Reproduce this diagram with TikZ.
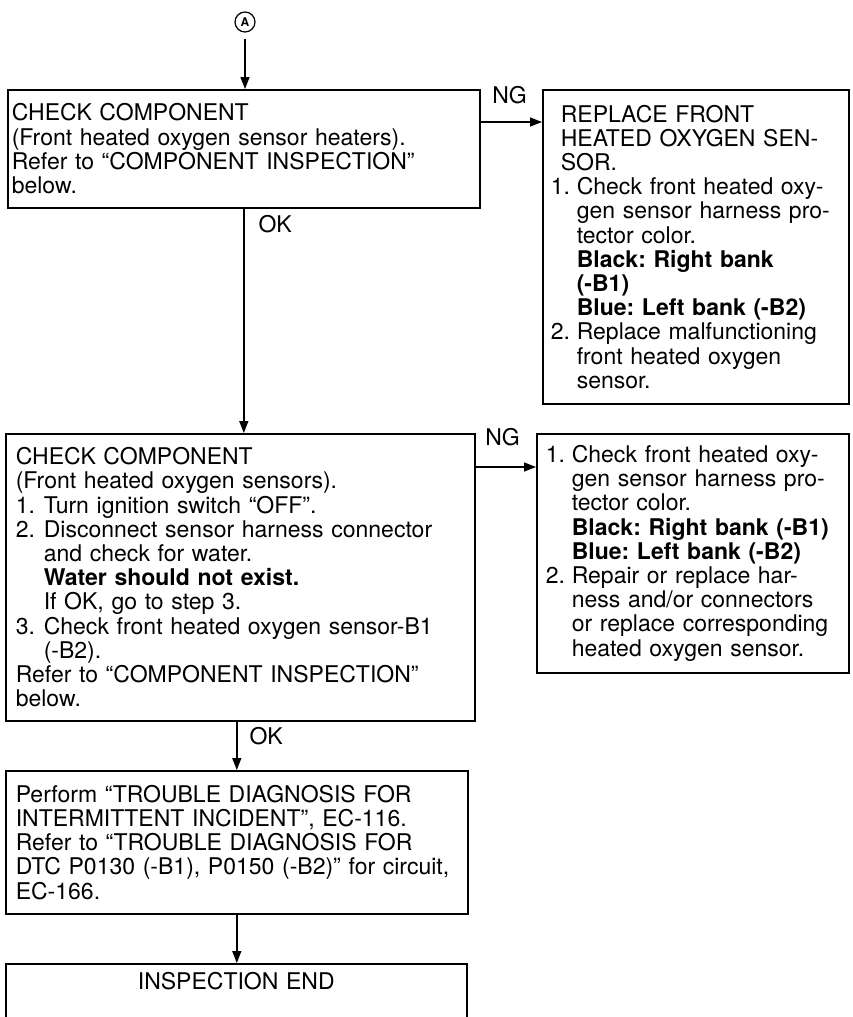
\documentclass[tikz,border=0pt]{standalone}
\usepackage{fontspec}
\setmainfont{TeX Gyre Heros}
\usetikzlibrary{arrows.meta,positioning}
\newcommand{\nomor}[2][26pt]{\makebox[#1][l]{#2}}
\newcommand{\terus}[1][26pt]{\hspace*{#1}}
\frenchspacing
\begin{document}
\begin{tikzpicture}[x=1pt, y=-1pt, >={Triangle[length=12pt,width=9pt]},
    boks/.style={draw, line width=1.6pt, anchor=north west, align=left, inner ysep=3pt,
      font=\fontsize{23}{24.2}\selectfont},
    garis/.style={->, line width=1.4pt},
    tanda/.style={inner sep=0pt, anchor=base west, font=\fontsize{23}{24}\selectfont}]
  \useasboundingbox (0,0) rectangle (852,1017);
  \clip (0,0) rectangle (852,1017);

  \node[draw, circle, line width=1.2pt, minimum size=20pt, inner sep=0pt,
    font=\bfseries\fontsize{12}{12}\selectfont] (a) at (245,22) {A};

  \node[boks, inner xsep=4pt, text width=464pt, minimum height=118pt] (cek1) at (7,89)
    {CHECK COMPONENT\\
     (Front heated oxygen sensor heaters).\\
     Refer to “COMPONENT INSPECTION”\\
     below.};

  \node[boks, inner xsep=8pt, text width=290pt, minimum height=314pt] (ganti1) at (542,89)
    {\terus[10pt]REPLACE FRONT\\
     \terus[10pt]HEATED OXYGEN SEN-\\
     \terus[10pt]SOR.\\
     \nomor{1.}Check front heated oxy-\\
     \terus gen sensor harness pro-\\
     \terus tector color.\\
     \terus\textbf{Black: Right bank}\\
     \terus\textbf{(-B1)}\\
     \terus\textbf{Blue: Left bank (-B2)}\\
     \nomor{2.}Replace malfunctioning\\
     \terus front heated oxygen\\
     \terus sensor.};

  \node[boks, inner xsep=10pt, text width=449pt, minimum height=287pt] (cek2) at (5,433)
    {CHECK COMPONENT\\
     (Front heated oxygen sensors).\\
     \nomor[28pt]{1.}Turn ignition switch “OFF”.\\
     \nomor[28pt]{2.}Disconnect sensor harness connector\\
     \terus[28pt]and check for water.\\
     \terus[28pt]\textbf{Water should not exist.}\\
     \terus[28pt]If OK, go to step 3.\\
     \nomor[28pt]{3.}Check front heated oxygen sensor-B1\\
     \terus[28pt](-B2).\\
     Refer to “COMPONENT INSPECTION”\\
     below.};

  \node[boks, inner xsep=9pt, text width=294pt, minimum height=239pt] (ganti2) at (536,433)
    {\nomor{1.}Check front heated oxy-\\
     \terus gen sensor harness pro-\\
     \terus tector color.\\
     \terus\textbf{Black: Right bank (-B1)}\\
     \terus\textbf{Blue: Left bank (-B2)}\\
     \nomor{2.}Repair or replace har-\\
     \terus ness and/or connectors\\
     \terus or replace corresponding\\
     \terus heated oxygen sensor.};

  \node[boks, inner xsep=10pt, text width=442pt, minimum height=143pt] (hasil) at (5,770)
    {Perform “TROUBLE DIAGNOSIS FOR\\
     INTERMITTENT INCIDENT”, EC-116.\\
     Refer to “TROUBLE DIAGNOSIS FOR\\
     DTC P0130 (-B1), P0150 (-B2)” for circuit,\\
     EC-166.};

  \node[boks, inner xsep=10pt, text width=441pt, align=center, inner ysep=8pt,
    text height=18pt, text depth=60pt] (akhir) at (5,963) {INSPECTION END};

  % connectors
  \draw[garis, shorten <=6pt] (a) -- (a |- cek1.north);
  \draw[garis] ([yshift=-33pt]cek1.north east) -- ([yshift=-33pt]ganti1.north west)
    node[tanda, pos=0, xshift=11pt, yshift=19pt] {NG};
  \draw[garis] (cek1.south) -- (cek1.south |- cek2.north)
    node[tanda, pos=0, xshift=14pt, yshift=-24pt] {OK};
  \draw[garis] ([yshift=-34pt]cek2.north east) -- ([yshift=-34pt]ganti2.north west)
    node[tanda, pos=0, xshift=9pt, yshift=22pt] {NG};
  \draw[garis] (cek2.south -| hasil.north) -- (hasil.north)
    node[tanda, pos=0, xshift=12pt, yshift=-23pt] {OK};
  \draw[garis] (hasil.south) -- (hasil.south |- akhir.north);
\end{tikzpicture}
\end{document}
